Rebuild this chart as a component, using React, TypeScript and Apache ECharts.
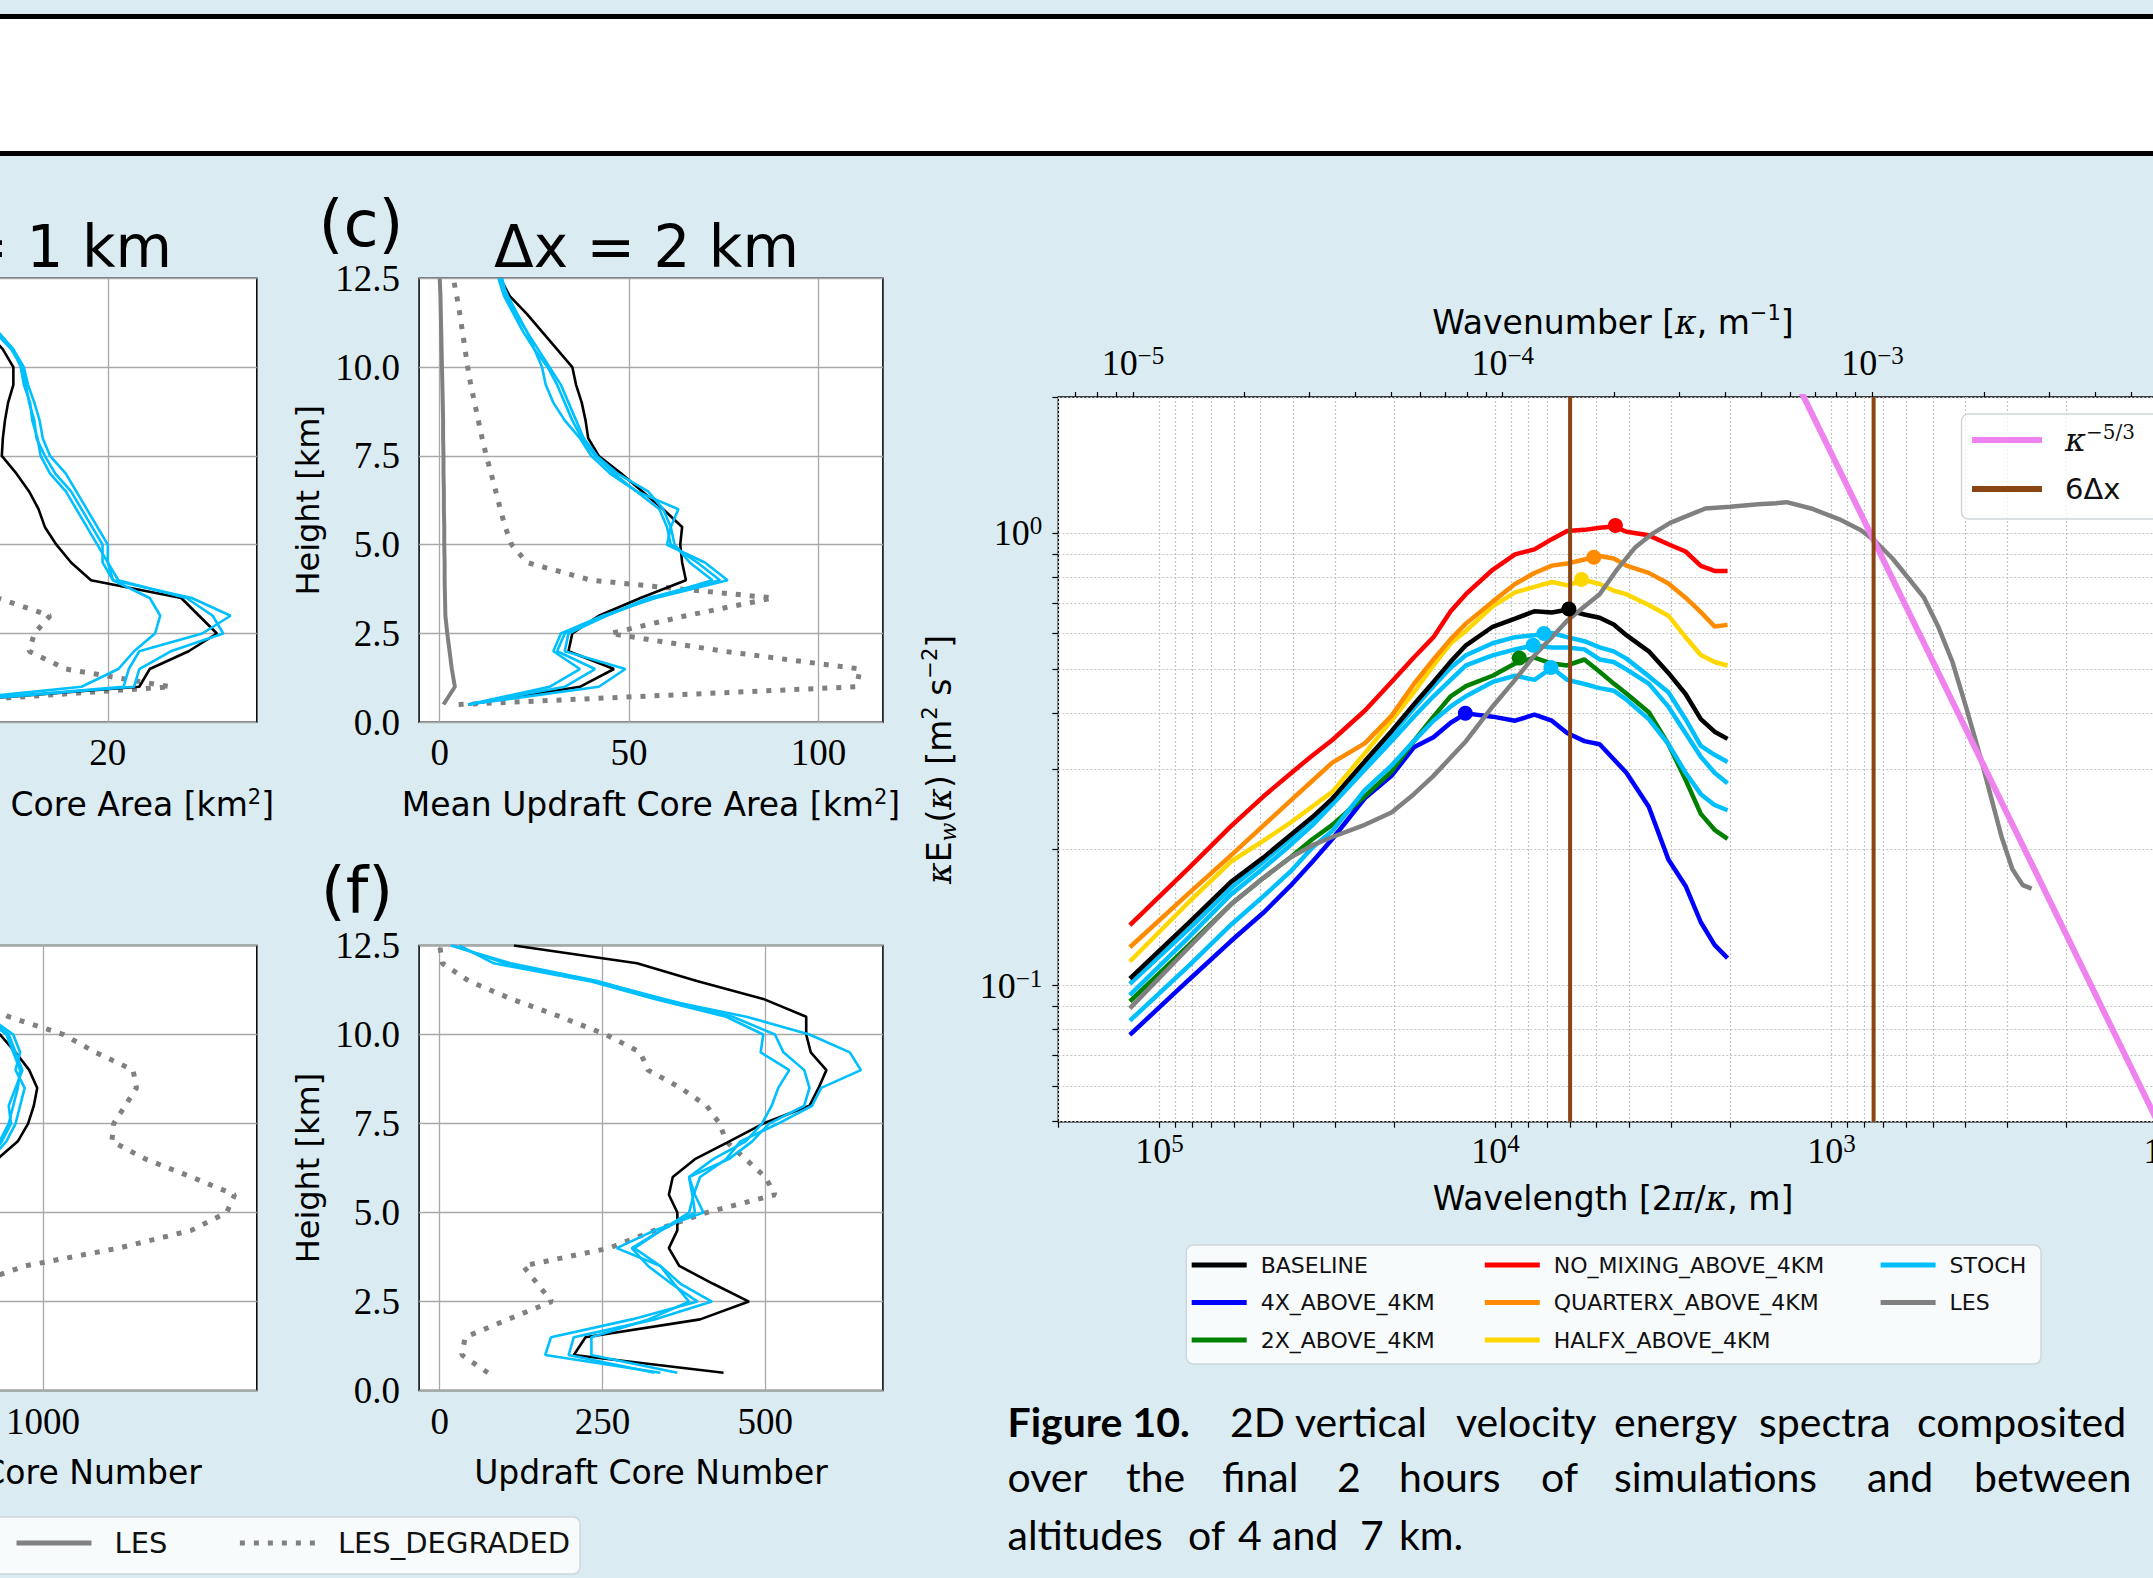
import React, { useEffect, useRef } from "react";
import * as echarts from "echarts";

// ---------------- profile panels (height in km) ----------------
const heights = [0.5, 1, 1.5, 2, 2.5, 3, 3.5, 4, 4.5, 5, 5.5, 6, 6.5, 7, 7.5, 8, 8.5, 9, 9.5, 10, 10.5, 11, 11.5, 12, 12.5];

// (b) dx = 1 km, mean updraft core area
const bBaseline = [1, 23, 24, 27.7, 30.4, 28.7, 27, 18.4, 16.5, 15.1, 14, 13.4, 12.5, 11.3, 9.9, 10, 10.2, 10.5, 11, 11, 10, 8.5, 7, 6, 5];
const bStoch1 = [1, 17.5, 21, 22.5, 24.5, 25, 24, 20.5, 20, 19, 18, 17, 16, 14.5, 13.6, 13.3, 12.8, 12.6, 12, 11.7, 11, 9.5, 8, 6.5, 5];
const bStoch2 = [1, 21.5, 22, 23, 29, 31.7, 28, 20.5, 19.5, 19.5, 18.5, 17.5, 16.5, 15, 14, 13.2, 13, 12.5, 12.2, 11.8, 10.8, 9.2, 7.8, 6.2, 4.8];
const bStoch3 = [1, 22.5, 23, 26, 31, 30, 27.5, 21, 20, 20, 19, 18, 17, 16, 14.5, 13.8, 13.5, 13, 12.4, 12, 11, 9.5, 8, 6.5, 5];
const bLes = [0.5, 2.5, 2.2, 1.8, 1.5, 1.2, 1.1, 1, 1, 0.9, 0.9, 0.8, 0.8, 0.7, 0.7, 0.6, 0.6, 0.5, 0.5, 0.4, 0.4, 0.3, 0.3, 0.2, 0.1];
const bDegraded = [1, 26, 16, 12.5, 13, 14.5, 9.5, 6, 4.5, 4, 3.6, 3.3, 3.1, 2.9, 2.7, 2.5, 2.3, 2.2, 2, 1.9, 1.7, 1.6, 1.5, 1.3, 1.2];

// (c) dx = 2 km, mean updraft core area
const cBaseline = [7.5, 37, 46, 34, 35, 42, 53, 65, 64, 63.5, 64, 59, 53.5, 48, 42, 39.2, 38.5, 37.5, 36, 35, 31, 27, 23, 18.5, 16];
const cStoch1 = [7.5, 29, 37, 30, 32, 43, 57, 76, 70, 60, 61, 63, 52, 45, 40, 37, 33, 30, 28, 27, 25, 23, 20, 17.5, 16.5];
const cStoch2 = [7.5, 33, 41, 31, 33, 44, 55, 74, 68, 61, 60, 58, 52, 46, 41, 37.5, 35, 33, 31, 28.5, 25, 22, 19.5, 17, 15.5];
const cStoch3 = [7.5, 42, 49, 33, 34, 44, 56, 72, 66, 62, 61, 59, 55, 47, 41.5, 38, 36, 34, 32, 29, 26, 23, 20.5, 18, 16];
const cLes = [1, 4, 3.2, 2.6, 2, 1.5, 1.4, 1.3, 1.3, 1.2, 1.2, 1.1, 1.1, 1, 1, 0.9, 0.9, 0.8, 0.7, 0.6, 0.5, 0.4, 0.3, 0.2, 0];
const cDegraded = [5, 110, 111, 75, 45, 65, 88, 40, 23, 19, 17.3, 16, 14.8, 13.6, 12.3, 11.2, 10.2, 9.2, 8.2, 7.4, 6.7, 6, 5.3, 4.5, 3.6];

// (e) dx = 1 km, updraft core number
const eBaseline = [260, 280, 300, 330, 360, 390, 420, 460, 500, 560, 620, 700, 800, 890, 935, 960, 975, 940, 880, 812, 700, 600, 500, 400, 300];
const eStoch1 = [250, 270, 290, 320, 350, 380, 410, 450, 490, 540, 600, 680, 770, 840, 880, 900, 920, 880, 900, 870, 760, 650, 540, 430, 320];
const eStoch2 = [240, 260, 280, 310, 340, 370, 400, 440, 480, 530, 590, 660, 750, 810, 850, 870, 890, 900, 870, 840, 740, 630, 520, 410, 300];
const eStoch3 = [245, 265, 285, 315, 345, 375, 405, 445, 485, 535, 595, 670, 760, 820, 860, 850, 880, 910, 880, 850, 750, 640, 530, 420, 310];
const eDegraded = [250, 300, 350, 400, 500, 700, 920, 1330, 1650, 1805, 1840, 1650, 1450, 1302, 1310, 1360, 1410, 1395, 1230, 1090, 850, 700, 600, 450, 300];

// (f) dx = 2 km, updraft core number
const fBaseline = [436, 206, 224, 400, 475, 420, 368, 352, 365, 365, 352, 358, 392, 445, 497, 568, 582, 594, 570, 563, 563, 497, 395, 303, 114];
const fStoch1 = [365, 233, 233, 321, 383, 360, 339, 299, 340, 383, 390, 400, 440, 462, 520, 572, 586, 647, 630, 568, 471, 338, 242, 109, 17];
const fStoch2 = [339, 162, 171, 295, 396, 356, 320, 295, 340, 392, 388, 383, 420, 470, 495, 510, 520, 537, 493, 497, 440, 330, 230, 83, 30];
const fStoch3 = [330, 198, 206, 330, 418, 370, 339, 272, 330, 405, 392, 383, 444, 480, 506, 560, 568, 560, 528, 515, 450, 345, 240, 100, 20];
const fDegraded = [74, 34, 39, 105, 172, 150, 128, 260, 330, 410, 515, 500, 470, 440, 430, 410, 370, 320, 308, 255, 185, 110, 45, 4, 0];

const bTicks = [0, 20];
const cTicks = [0, 50, 100];
const eTicks = [0, 1000];
const fTicks = [0, 250, 500];

// ---------------- spectra ----------------
const modelWavelength = [122500, 81700, 61250, 49000, 40800, 35000, 30600, 24500, 20400, 17500, 15300, 13600, 12250, 10200, 8750, 7660, 6800, 6125, 5440, 4900, 4450, 4080, 3500, 3060, 2720, 2450, 2230, 2040];
const specBaseline = [0.1036, 0.1377, 0.1695, 0.192, 0.215, 0.236, 0.259, 0.313, 0.365, 0.418, 0.469, 0.52, 0.565, 0.621, 0.647, 0.672, 0.668, 0.677, 0.661, 0.65, 0.628, 0.595, 0.548, 0.491, 0.441, 0.388, 0.364, 0.351];
const spec4x = [0.0778, 0.103, 0.1254, 0.145, 0.166, 0.188, 0.2108, 0.2594, 0.2907, 0.3363, 0.354, 0.381, 0.3996, 0.393, 0.385, 0.397, 0.385, 0.3617, 0.347, 0.3416, 0.3165, 0.2954, 0.2485, 0.19, 0.166, 0.138, 0.123, 0.115];
const spec2x = [0.0922, 0.1228, 0.1512, 0.173, 0.1919, 0.2108, 0.2266, 0.262, 0.297, 0.347, 0.393, 0.436, 0.459, 0.484, 0.515, 0.531, 0.515, 0.51, 0.5257, 0.494, 0.465, 0.442, 0.402, 0.3416, 0.285, 0.2396, 0.2209, 0.211];
const specNoMixing = [0.136, 0.182, 0.225, 0.262, 0.294, 0.323, 0.349, 0.405, 0.469, 0.531, 0.589, 0.672, 0.733, 0.83, 0.898, 0.921, 0.97, 1.011, 1.017, 1.028, 1.035, 1.007, 0.989, 0.945, 0.911, 0.847, 0.825, 0.825];
const specQuarterx = [0.1215, 0.16, 0.194, 0.226, 0.256, 0.284, 0.311, 0.343, 0.3946, 0.464, 0.5257, 0.5831, 0.631, 0.7058, 0.7719, 0.8166, 0.8478, 0.8565, 0.8743, 0.89, 0.879, 0.848, 0.817, 0.774, 0.72, 0.669, 0.622, 0.627];
const specHalfx = [0.113, 0.153, 0.188, 0.209, 0.229, 0.249, 0.268, 0.326, 0.385, 0.445, 0.51, 0.571, 0.608, 0.689, 0.74, 0.761, 0.78, 0.767, 0.788, 0.772, 0.746, 0.733, 0.694, 0.657, 0.589, 0.538, 0.519, 0.51];
const specStochA = [0.1008, 0.1334, 0.1642, 0.188, 0.2108, 0.2338, 0.2567, 0.3063, 0.358, 0.41, 0.459, 0.504, 0.537, 0.571, 0.589, 0.595, 0.6015, 0.589, 0.577, 0.559, 0.548, 0.528, 0.483, 0.445, 0.388, 0.3385, 0.3236, 0.312];
const specStochB = [0.0953, 0.128, 0.159, 0.182, 0.2043, 0.2266, 0.2515, 0.3, 0.347, 0.393, 0.436, 0.474, 0.51, 0.537, 0.5535, 0.565, 0.559, 0.559, 0.5535, 0.5257, 0.519, 0.5, 0.465, 0.4135, 0.361, 0.3205, 0.2954, 0.28];
const specStochC = [0.0836, 0.1107, 0.1363, 0.1576, 0.1785, 0.2021, 0.2197, 0.2704, 0.3063, 0.347, 0.385, 0.414, 0.436, 0.469, 0.484, 0.474, 0.504, 0.474, 0.464, 0.4545, 0.4485, 0.4287, 0.388, 0.3416, 0.2954, 0.2649, 0.2507, 0.244];

const lesWavelength = [122500, 81700, 61250, 49000, 40800, 35000, 30600, 24500, 20400, 17500, 15300, 13600, 12250, 10200, 8750, 7660, 6800, 6125, 5440, 4900, 4345, 3851, 3412, 3023, 2679, 2374, 2005, 1652, 1464, 1362, 1150, 948, 820, 744, 659, 585, 531, 482, 437, 397, 360, 335, 312, 290, 270, 254];
const lesEnergy = [0.089, 0.1215, 0.1512, 0.173, 0.1919, 0.2043, 0.213, 0.2266, 0.2412, 0.2649, 0.2907, 0.3192, 0.3469, 0.414, 0.4738, 0.5367, 0.589, 0.6402, 0.6887, 0.733, 0.832, 0.928, 0.998, 1.054, 1.093, 1.134, 1.144, 1.158, 1.165, 1.171, 1.134, 1.073, 1.016, 0.962, 0.879, 0.788, 0.72, 0.622, 0.519, 0.41, 0.318, 0.26, 0.213, 0.181, 0.1667, 0.1637];

// peak markers [wavelength, energy]
const peakBaseline = [6050, 0.68];
const peak4x = [12300, 0.4];
const peak2x = [8500, 0.53];
const peakNoMixing = [4400, 1.04];
const peakQuarterx = [5100, 0.885];
const peakHalfx = [5550, 0.79];
const peakStochA = [7180, 0.6];
const peakStochB = [7730, 0.565];
const peakStochC = [6840, 0.505];

const kappaWavelength = [1300, 100];
const kappaEnergy = [2.23, 0.045];
const sixDxWavelength = [6000, 750];

// axis ranges
const WL_MIN = 100, WL_MAX = 200000;
const KN_MIN = 6.2832e-6, KN_MAX = 6.2832e-3;
const E_MIN = 0.05, E_MAX = 2;
const wlLabels = [2, 3, 4, 5];
const knLabels = [-5, -4, -3];
const eLabels = [-1, 0];

// ---------------- styling ----------------
const BG = "#daecf2";
const SANS = "'DejaVu Sans', sans-serif";
const SERIF = "'Liberation Serif', serif";
const MATH = "'DejaVu Serif', serif";
const CYAN = "#00bfff";
const GRAY = "#808080";

const L = Math.log10;

function logTicks(lo: number, hi: number) {
  const out: number[] = [];
  for (let n = -7; n <= 6; n++) {
    for (let k = 1; k <= 9; k++) {
      const v = k * Math.pow(10, n);
      if (v >= lo * 0.9999 && v <= hi * 1.0001) out.push(L(v));
    }
  }
  return out;
}

const powLabel = (v: number) => {
  const k = Math.round(v);
  return "10{s|" + (k < 0 ? "\u2212" + -k : String(k)) + "}";
};

function buildOption() {
  const profilePanels = [
    { grid: { left: -207, top: 278.3, width: 463.8, height: 444 }, min: -10, max: 34.2, ticks: bTicks, name: "Mean Updraft Core Area [km{sup|2}]", base: bBaseline, stoch: [bStoch1, bStoch2, bStoch3], les: bLes, deg: bDegraded },
    { grid: { left: 419.1, top: 278.3, width: 463.8, height: 444 }, min: -5.44, max: 117, ticks: cTicks, name: "Mean Updraft Core Area [km{sup|2}]", base: cBaseline, stoch: [cStoch1, cStoch2, cStoch3], les: cLes, deg: cDegraded },
    { grid: { left: -207, top: 945.5, width: 463.8, height: 445.1 }, min: -95, max: 1937, ticks: eTicks, name: "Updraft Core Number", base: eBaseline, stoch: [eStoch1, eStoch2, eStoch3], les: null, deg: eDegraded },
    { grid: { left: 419.1, top: 945.5, width: 463.8, height: 445.1 }, min: -31.7, max: 680.8, ticks: fTicks, name: "Updraft Core Number", base: fBaseline, stoch: [fStoch1, fStoch2, fStoch3], les: null, deg: fDegraded },
  ];

  const gridStyle = { show: true, backgroundColor: "#fff", borderColor: "#000", borderWidth: 1.5, outerBoundsMode: "none", containLabel: false };
  const grids: any[] = profilePanels.map((p) => ({ ...p.grid, ...gridStyle }));
  grids.push({ left: 1058.3, top: 397, width: 1109.4, height: 724.7, ...gridStyle });

  const xAxes: any[] = [];
  const yAxes: any[] = [];
  const series: any[] = [];

  profilePanels.forEach((p, i) => {
    xAxes.push({
      type: "value", gridIndex: i, min: p.min, max: p.max, position: "bottom",
      axisLine: { show: false, onZero: false },
      axisTick: { show: false, customValues: p.ticks },
      axisLabel: { customValues: p.ticks, fontFamily: SERIF, fontSize: 37, color: "#000", margin: 12, formatter: (v: number) => String(v) },
      splitLine: { show: true, lineStyle: { color: "#a8a8a8", width: 1.3 } },
      name: p.name, nameLocation: "middle", nameGap: 64,
      nameTextStyle: { fontFamily: SANS, fontSize: 33, color: "#000", lineHeight: 36, rich: { sup: { fontFamily: SANS, fontSize: 21, lineHeight: 18, verticalAlign: "top", color: "#000" } } },
    });
    yAxes.push({
      type: "value", gridIndex: i, min: 0, max: 12.5, interval: 2.5,
      axisLine: { show: false, onZero: false }, axisTick: { show: false },
      axisLabel: { fontFamily: SERIF, fontSize: 37, color: "#000", margin: 19, formatter: (v: number) => v.toFixed(1) },
      splitLine: { show: true, lineStyle: { color: "#a8a8a8", width: 1.3 } },
      name: "Height [km]", nameLocation: "middle", nameGap: 93, nameRotate: 90,
      nameTextStyle: { fontFamily: SANS, fontSize: 32, color: "#000", lineHeight: 36 },
    });
    const mk = (name: string, vals: number[], ls: any, z: number) => ({
      type: "line", name, xAxisIndex: i, yAxisIndex: i, silent: true, symbol: "none", z,
      color: ls.color, lineStyle: ls,
      data: vals.map((v, k) => [v, heights[k]]),
    });
    series.push(mk("LES_DEGRADED", p.deg, { color: GRAY, width: 5, type: [5, 9], cap: "butt" }, 2));
    if (p.les) series.push(mk("LES", p.les, { color: GRAY, width: 4 }, 2));
    series.push(mk("BASELINE", p.base, { color: "#000", width: 2.6 }, 3));
    p.stoch.forEach((s) => series.push(mk("STOCH", s, { color: CYAN, width: 2.6 }, 3)));
  });

  // spectrum axes
  const axisFont = { fontFamily: SERIF, fontSize: 36, color: "#000", lineHeight: 40, rich: { s: { fontFamily: SERIF, fontSize: 25, lineHeight: 20, verticalAlign: "top", color: "#000" } } };
  const dotted = { show: true, lineStyle: { color: "#c4c4c4", width: 1.2, type: [2, 2] } };
  const mathRich = {
    i: { fontFamily: MATH, fontStyle: "italic", fontSize: 33, color: "#000" },
    s: { fontFamily: SANS, fontSize: 21, lineHeight: 18, verticalAlign: "top", color: "#000" },
    w: { fontFamily: MATH, fontStyle: "italic", fontSize: 22, lineHeight: 16, verticalAlign: "bottom", color: "#000" },
  };
  xAxes.push({
    type: "value", gridIndex: 4, min: L(WL_MIN), max: L(WL_MAX), inverse: true, position: "bottom",
    axisLine: { show: false, onZero: false },
    axisTick: { show: true, length: 6, customValues: logTicks(WL_MIN, WL_MAX), lineStyle: { color: "#000", width: 1.2 } },
    axisLabel: { customValues: wlLabels, margin: 9, formatter: powLabel, ...axisFont },
    splitLine: dotted,
    name: "Wavelength [2{i|\u03c0}/{i|\u03ba}, m]", nameLocation: "middle", nameGap: 57,
    nameTextStyle: { fontFamily: SANS, fontSize: 33, color: "#000", lineHeight: 40, rich: mathRich },
  });
  xAxes.push({
    type: "value", gridIndex: 4, min: L(KN_MIN), max: L(KN_MAX), position: "top",
    axisLine: { show: false, onZero: false },
    axisTick: { show: true, length: 5, customValues: logTicks(KN_MIN, KN_MAX), lineStyle: { color: "#000", width: 1.2 } },
    axisLabel: { customValues: knLabels, margin: 14, formatter: powLabel, ...axisFont },
    splitLine: { show: false },
    name: "Wavenumber [{i|\u03ba}, m{s|\u22121}]", nameLocation: "middle", nameGap: 48,
    nameTextStyle: { fontFamily: SANS, fontSize: 33, color: "#000", lineHeight: 40, rich: mathRich },
  });
  yAxes.push({
    type: "value", gridIndex: 4, min: L(E_MIN), max: L(E_MAX),
    axisLine: { show: false, onZero: false },
    axisTick: { show: true, length: 6, customValues: logTicks(E_MIN, E_MAX), lineStyle: { color: "#000", width: 1.2 } },
    axisLabel: { customValues: eLabels, margin: 16, formatter: powLabel, ...axisFont },
    splitLine: dotted,
    name: "{i|\u03ba}E{w|w}({i|\u03ba}) [m{s|2} s{s|\u22122}]", nameLocation: "middle", nameGap: 99, nameRotate: 90,
    nameTextStyle: { fontFamily: SANS, fontSize: 33, color: "#000", lineHeight: 40, rich: mathRich },
  });

  const spec = (name: string, color: string, wl: number[], en: number[], peak: number[] | null, width = 4.5) => ({
    type: "line", name, xAxisIndex: 4, yAxisIndex: 4, silent: true, symbol: "none", color, z: 3,
    lineStyle: { color, width },
    data: wl.map((w, k) => [L(w), L(en[k])]),
    markPoint: peak
      ? { symbol: "circle", symbolSize: 15, silent: true, label: { show: false }, itemStyle: { color }, data: [{ coord: [L(peak[0]), L(peak[1])] }] }
      : undefined,
  });

  series.push(spec("4X_ABOVE_4KM", "#0000ff", modelWavelength, spec4x, peak4x));
  series.push(spec("2X_ABOVE_4KM", "#008000", modelWavelength, spec2x, peak2x));
  series.push(spec("STOCH", CYAN, modelWavelength, specStochC, peakStochC));
  series.push(spec("STOCH", CYAN, modelWavelength, specStochB, peakStochB));
  series.push(spec("STOCH", CYAN, modelWavelength, specStochA, peakStochA));
  series.push(spec("BASELINE", "#000000", modelWavelength, specBaseline, peakBaseline));
  series.push(spec("HALFX_ABOVE_4KM", "#ffd700", modelWavelength, specHalfx, peakHalfx));
  series.push(spec("QUARTERX_ABOVE_4KM", "#ff8c00", modelWavelength, specQuarterx, peakQuarterx));
  series.push(spec("NO_MIXING_ABOVE_4KM", "#ff0000", modelWavelength, specNoMixing, peakNoMixing));
  series.push(spec("LES", GRAY, lesWavelength, lesEnergy, null));
  series.push(spec("\u03ba^(-5/3)", "#ee82ee", kappaWavelength, kappaEnergy, null, 6));
  sixDxWavelength.forEach((w) => {
    series.push({
      type: "line", name: "6\u0394x", xAxisIndex: 4, yAxisIndex: 4, silent: true, symbol: "none", color: "#8b4513", z: 4,
      lineStyle: { color: "#8b4513", width: 4 },
      data: [[L(w), L(E_MIN)], [L(w), L(E_MAX)]],
    });
  });

  const legendText = { fontFamily: SANS, fontSize: 22, color: "#111", lineHeight: 26, padding: [0, 0, 0, 9] };
  const specLegend = (left: number, data: string[]) => ({
    show: true, orient: "vertical", left, top: 1252, padding: 0, itemGap: 11.5, itemWidth: 55, itemHeight: 5,
    icon: "rect", selectedMode: false, textStyle: legendText, data,
  });

  const legends = [
    {
      show: true, orient: "horizontal", left: 14, top: 1526, padding: 0, itemGap: 70, itemWidth: 75, itemHeight: 14,
      selectedMode: false, itemStyle: { opacity: 0 }, lineStyle: { width: 5 },
      textStyle: { fontFamily: SANS, fontSize: 29, color: "#111", lineHeight: 34, padding: [0, 0, 0, 18] },
      data: ["LES", "LES_DEGRADED"],
    },
    specLegend(1191.7, ["BASELINE", "4X_ABOVE_4KM", "2X_ABOVE_4KM"]),
    specLegend(1484.8, ["NO_MIXING_ABOVE_4KM", "QUARTERX_ABOVE_4KM", "HALFX_ABOVE_4KM"]),
    specLegend(1880.6, ["STOCH", "LES"]),
    {
      show: true, orient: "vertical", left: 1972, top: 422, padding: 0, itemGap: 13, itemWidth: 70, itemHeight: 6,
      icon: "rect", selectedMode: false, data: ["\u03ba^(-5/3)", "6\u0394x"],
      formatter: (n: string) => (n === "6\u0394x" ? n : "{k|\u03ba}{s|\u22125/3}"),
      textStyle: {
        fontFamily: SANS, fontSize: 29, color: "#111", lineHeight: 36, padding: [0, 0, 0, 18],
        rich: {
          k: { fontFamily: MATH, fontStyle: "italic", fontSize: 32, color: "#111", lineHeight: 36 },
          s: { fontFamily: MATH, fontSize: 20, color: "#111", lineHeight: 18, verticalAlign: "top" },
        },
      },
    },
  ];

  const txt = (text: string, x: number, y: number, size: number, family: string, align = "left", weight = "normal") => ({
    type: "text", x, y, z: 5,
    style: { text, fontSize: size, fontFamily: family, fontWeight: weight, fill: "#000", align, verticalAlign: "middle", textAlign: align, textVerticalAlign: "middle" },
  });

  const line1 = [["2D", 1230], ["vertical", 1295], ["velocity", 1456], ["energy", 1614], ["spectra", 1759], ["composited", 1917]];
  const line2 = [["over", 1007.5], ["the", 1126], ["final", 1222], ["2", 1337], ["hours", 1399], ["of", 1541], ["simulations", 1614], ["and", 1867], ["between", 1974]];
  const line3 = [["altitudes", 1007.5], ["of", 1188], ["4", 1238], ["and", 1272], ["7", 1360], ["km.", 1399]];
  const CAP = "Lato, 'Open Sans', sans-serif";
  const CS = 41;

  const frame = (x: number, y: number, w: number, h: number) => ({
    type: "rect", z: 3, shape: { x, y, width: w, height: h, r: 7 },
    style: { fill: "rgba(255,255,255,0.78)", stroke: "#cfd6d9", lineWidth: 1.5 },
  });

  const graphic = [
    { type: "rect", z: 1, shape: { x: 0, y: 19, width: 2153, height: 132 }, style: { fill: "#ffffff" } },
    { type: "rect", z: 1, shape: { x: 0, y: 14, width: 2153, height: 5 }, style: { fill: "#000" } },
    { type: "rect", z: 1, shape: { x: 0, y: 151, width: 2153, height: 5 }, style: { fill: "#000" } },
    txt("\u0394x = 1 km", 172, 247, 58, SANS, "right"),
    txt("\u0394x = 2 km", 646.5, 247, 58, SANS, "center"),
    txt("(c)", 361, 224, 64, SANS, "center"),
    txt("(f)", 357, 891, 64, SANS, "center"),
    frame(-20, 1517, 600, 57),
    frame(1186.3, 1245, 854.7, 119),
    frame(1961.5, 414, 220, 105),
    txt("Figure 10.", 1007.5, 1421, CS, CAP, "left", "bold"),
    ...line1.map(([w, x]) => txt(w as string, x as number, 1421, CS, CAP)),
    ...line2.map(([w, x]) => txt(w as string, x as number, 1476, CS, CAP)),
    ...line3.map(([w, x]) => txt(w as string, x as number, 1534, CS, CAP)),
  ];

  return {
    animation: false,
    backgroundColor: BG,
    grid: grids,
    xAxis: xAxes,
    yAxis: yAxes,
    legend: legends,
    series,
    graphic,
  };
}

export default function App() {
  const ref = useRef<HTMLDivElement>(null);
  useEffect(() => {
    document.body.style.margin = "0";
    const chart = echarts.init(ref.current as HTMLDivElement, null, { renderer: "svg" });
    chart.setOption(buildOption() as any);
    return () => chart.dispose();
  }, []);
  return <div ref={ref} style={{ width: 2153, height: 1578, background: BG }} />;
}
